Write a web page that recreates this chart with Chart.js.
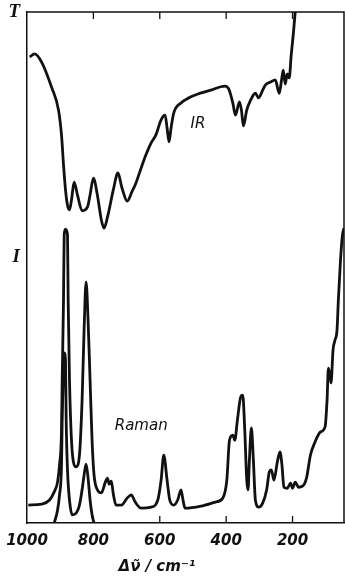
<!DOCTYPE html>
<html>
<head>
<meta charset="utf-8">
<script src="https://cdn.jsdelivr.net/npm/chart.js@4.4.0/dist/chart.umd.min.js"></script>
<style>
  html, body { margin: 0; padding: 0; background: #fff; }
  #wrap { width: 345px; height: 586px; }
</style>
</head>
<body>
<div id="wrap"><canvas id="spectrum" width="345" height="586"></canvas></div>
<script>
// IR transmission trace: wavenumber (cm-1) and relative height in the frame (0-100)
const irWavenumbers = [992, 977, 956, 926, 905, 896, 890, 884, 878, 872, 866, 858, 848, 834, 818, 810, 800, 788, 776, 768,
  756, 740, 726, 714, 698, 684, 672, 656, 642, 626, 612, 596, 584, 578, 572, 566, 558, 536, 512, 491,
  446, 404, 392, 380, 372, 360, 354, 348, 338, 326, 312, 302, 290, 282, 266, 252, 240, 234, 228, 222,
  216, 210, 204, 198, 192];
const irValues = [91.2, 91.8, 90.2, 85.3, 80.8, 75.9, 70.1, 65.2, 62.2, 61.3, 63.2, 66.7, 64.2, 61.1, 61.8, 64.2, 67.5, 64.2, 59.3, 57.7,
  60.3, 65.2, 68.5, 65.6, 63.0, 64.8, 66.5, 69.5, 72.0, 74.4, 75.9, 78.9, 79.8, 77.3, 74.6, 77.3, 80.2, 82.2, 83.2, 83.8,
  84.7, 85.5, 84.9, 82.2, 79.8, 82.4, 80.8, 77.7, 80.8, 82.8, 84.1, 83.2, 84.7, 85.7, 86.3, 86.7, 84.1, 86.3, 88.6, 85.9,
  87.9, 87.1, 91.6, 95.5, 100];

// Raman trace
const ramanWavenumbers = [996, 956, 932, 918, 908, 902, 896, 894, 890, 888, 884, 878, 876, 872, 866, 860, 852, 842, 834, 828,
  822, 816, 810, 804, 798, 788, 776, 764, 758, 752, 746, 740, 732, 716, 698, 686, 674, 656, 626, 606,
  596, 588, 578, 570, 558, 546, 536, 530, 524, 476, 432, 410, 398, 390, 380, 374, 366, 356, 350, 344,
  338, 334, 330, 324, 318, 312, 302, 290, 278, 270, 264, 256, 246, 238, 232, 226, 216, 206, 200, 192,
  182, 170, 158, 146, 132, 116, 102, 96, 92, 86, 84, 78, 72, 66, 62, 56, 50, 45];
const ramanValues = [3.5, 3.7, 4.5, 6.1, 8.0, 11.4, 18.2, 28.0, 43.6, 56.4, 57.5, 56.4, 43.6, 28.0, 16.2, 11.9, 11.0, 13.3, 24.1, 37.8,
  47.2, 39.7, 28.0, 16.2, 9.4, 6.5, 5.9, 8.0, 8.8, 7.6, 8.2, 5.7, 3.5, 3.5, 4.9, 5.5, 4.1, 2.9, 3.1, 4.5,
  8.4, 13.3, 8.4, 4.5, 3.5, 4.5, 6.5, 4.5, 2.9, 3.3, 4.1, 4.9, 8.4, 16.2, 17.2, 16.2, 20.2, 24.7, 25.0, 18.2,
  8.4, 6.5, 12.3, 18.6, 12.3, 4.5, 3.1, 3.9, 6.5, 10.0, 10.4, 8.4, 11.9, 13.9, 11.4, 7.0, 6.8, 7.8, 6.8, 8.0,
  7.0, 7.2, 8.8, 13.3, 15.9, 17.8, 18.8, 24.1, 30.3, 28.4, 27.4, 33.9, 35.8, 37.8, 43.6, 50.9, 56.2, 57.7];

// second Raman trace, only over the strong bands near 800-900
const ramanPolWavenumbers = [918, 908, 902, 896, 894, 890, 888, 884, 882, 878, 872, 864, 854, 842, 834, 828, 822, 816, 810, 804, 798];
const ramanPolValues = [0, 2.5, 5.5, 11.4, 20.2, 29.9, 33.3, 31.9, 20.2, 10.4, 4.5, 1.6, 1.8, 3.5, 6.5, 9.4, 11.5, 8.8, 4.5, 1.6, 0];

const xTicks = [1000, 800, 600, 400, 200];
const xTickLabels = ['1000', '800', '600', '400', '200'];
const yTicks = [52, 100];
const yTickLabels = ['I', 'T'];

const curveLabels = ['IR', 'Raman'];
const curveLabelX = [485, 656];
const curveLabelY = [78, 19];
const xTitle = 'Δν\u0303 / cm\u207B\u00B9';

function toPoints(xs, ys) {
  return xs.map((x, i) => ({ x: x, y: ys[i] }));
}

const ink = '#111';

// frame top/right, inward tick marks, curve names and axis title
const framePlugin = {
  id: 'frame',
  afterDraw(chart) {
    const ctx = chart.ctx;
    const a = chart.chartArea;
    const xs = chart.scales.x;
    ctx.save();
    ctx.strokeStyle = ink;
    ctx.lineWidth = 1.5;
    ctx.beginPath();
    ctx.moveTo(a.left, a.top);
    ctx.lineTo(a.right, a.top);
    ctx.lineTo(a.right, a.bottom);
    ctx.stroke();
    ctx.lineWidth = 1.3;
    xTicks.forEach(v => {
      if (v === 1000) return;
      const px = xs.getPixelForValue(v);
      ctx.beginPath();
      ctx.moveTo(px, a.top);
      ctx.lineTo(px, a.top + 7);
      ctx.moveTo(px, a.bottom);
      ctx.lineTo(px, a.bottom - 7);
      ctx.stroke();
    });
    ctx.fillStyle = ink;
    ctx.textAlign = 'center';
    ctx.textBaseline = 'middle';
    ctx.font = 'italic 15px "DejaVu Sans"';
    curveLabels.forEach((t, i) => {
      ctx.fillText(t, xs.getPixelForValue(curveLabelX[i]), chart.scales.y.getPixelForValue(curveLabelY[i]));
    });
    ctx.font = 'italic bold 15px "DejaVu Sans"';
    ctx.fillText(xTitle, 157, 567);
    ctx.restore();
  }
};

const ctx = document.getElementById('spectrum').getContext('2d');
new Chart(ctx, {
  type: 'line',
  data: {
    datasets: [
      { label: 'IR', data: toPoints(irWavenumbers, irValues) },
      { label: 'Raman', data: toPoints(ramanWavenumbers, ramanValues) },
      { label: 'Raman 2', data: toPoints(ramanPolWavenumbers, ramanPolValues) }
    ]
  },
  options: {
    responsive: false,
    animation: false,
    layout: { padding: { top: 12, right: 1, left: 0, bottom: 0 } },
    plugins: {
      legend: { display: false },
      tooltip: { enabled: false }
    },
    elements: {
      point: { radius: 0 },
      line: { borderWidth: 2.8, borderColor: ink, cubicInterpolationMode: 'monotone', fill: false }
    },
    scales: {
      x: {
        type: 'linear',
        reverse: true,
        min: 45,
        max: 1000,
        afterBuildTicks: s => { s.ticks = xTicks.map(v => ({ value: v })); },
        afterFit: s => { s.height = 63; },
        ticks: {
          callback: (v, i) => xTickLabels[i],
          autoSkip: false,
          maxRotation: 0,
          padding: 1,
          color: ink,
          font: { family: 'DejaVu Sans', style: 'italic', weight: 'bold', size: 15 }
        },
        grid: { display: false, drawTicks: true, tickLength: 8 },
        border: { display: true, color: ink, width: 1.5 }
      },
      y: {
        type: 'linear',
        min: 0,
        max: 100,
        afterBuildTicks: s => { s.ticks = yTicks.map(v => ({ value: v })); },
        afterFit: s => { s.width = 27; },
        ticks: {
          callback: (v, i) => yTickLabels[i],
          padding: 0,
          color: ink,
          font: { family: 'Liberation Serif', style: 'italic', weight: 'bold', size: 19 }
        },
        grid: { display: false, drawTicks: true, tickLength: 7 },
        border: { display: true, color: ink, width: 1.5 }
      }
    }
  },
  plugins: [framePlugin]
});
</script>
</body>
</html>
